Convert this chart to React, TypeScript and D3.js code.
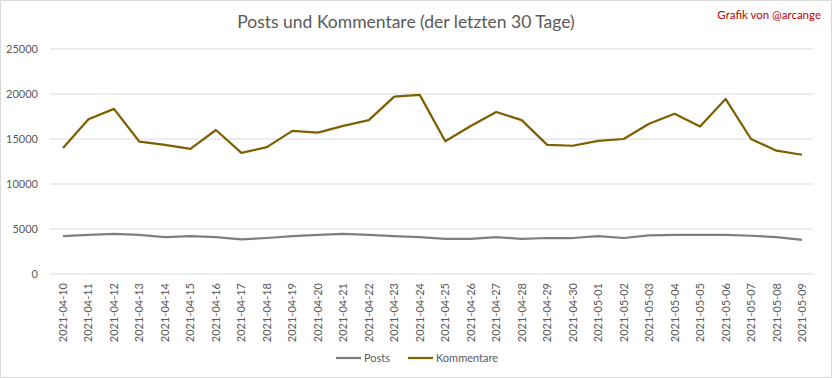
import React from "react";
import * as d3 from "d3";

const dates = [
  "2021-04-10","2021-04-11","2021-04-12","2021-04-13","2021-04-14","2021-04-15","2021-04-16","2021-04-17","2021-04-18","2021-04-19",
  "2021-04-20","2021-04-21","2021-04-22","2021-04-23","2021-04-24","2021-04-25","2021-04-26","2021-04-27","2021-04-28","2021-04-29",
  "2021-04-30","2021-05-01","2021-05-02","2021-05-03","2021-05-04","2021-05-05","2021-05-06","2021-05-07","2021-05-08","2021-05-09",
];
const posts = [4200,4350,4450,4350,4100,4200,4100,3850,4000,4200,4350,4450,4350,4200,4100,3900,3900,4100,3900,4000,4000,4200,4000,4300,4350,4350,4350,4250,4100,3800];
const kommentare = [14000,17200,18350,14700,14350,13900,16000,13450,14100,15900,15700,16450,17100,19700,19900,14750,16450,18000,17100,14350,14250,14800,15000,16700,17800,16400,19450,15000,13700,13250];
const yTicks = [0,5000,10000,15000,20000,25000];

const W = 832, H = 378;
const FONT = "Lato, 'Open Sans', sans-serif";

export default function App() {
  const x = d3.scalePoint<string>().domain(dates).range([63, 802]);
  const y = d3.scaleLinear().domain([0, 25000]).range([274, 49]);
  const line = (vals: number[]) =>
    d3.line<number>().x((_, i) => x(dates[i]) as number).y((v) => y(v))(vals) || "";
  return (
    <svg width={W} height={H} style={{ position: "absolute", left: 0, top: 0, background: "#fff" }} fontFamily={FONT}>
      <rect x={0.5} y={0.5} width={W - 1} height={H - 1} fill="#fff" stroke="#d9d9d9" />
      <text x={406} y={28} textAnchor="middle" fontSize={17.5} fill="#595959">Posts und Kommentare (der letzten 30 Tage)</text>
      <text x={821} y={19} textAnchor="end" fontSize={11.5} fill="#c00000">Grafik von @arcange</text>
      {yTicks.map((t) => (
        <g key={t}>
          <line x1={50} x2={813} y1={y(t)} y2={y(t)} stroke="#d9d9d9" strokeWidth={1} />
          <text x={38} y={y(t) + 4} textAnchor="end" fontSize={11} fill="#595959">{t}</text>
        </g>
      ))}
      {dates.map((d) => (
        <text key={d} transform={`translate(${(x(d) as number) + 4},283) rotate(-90)`} textAnchor="end" fontSize={11} fill="#595959">{d}</text>
      ))}
      <path d={line(posts)} fill="none" stroke="#7f7f7f" strokeWidth={2.25} strokeLinejoin="round" />
      <path d={line(kommentare)} fill="none" stroke="#7f6000" strokeWidth={2.25} strokeLinejoin="round" />
      <line x1={336} x2={361} y1={358} y2={358} stroke="#7f7f7f" strokeWidth={2.25} />
      <text x={364} y={362} fontSize={11} fill="#595959">Posts</text>
      <line x1={408} x2={433} y1={358} y2={358} stroke="#7f6000" strokeWidth={2.25} />
      <text x={436} y={362} fontSize={11} fill="#595959">Kommentare</text>
    </svg>
  );
}
